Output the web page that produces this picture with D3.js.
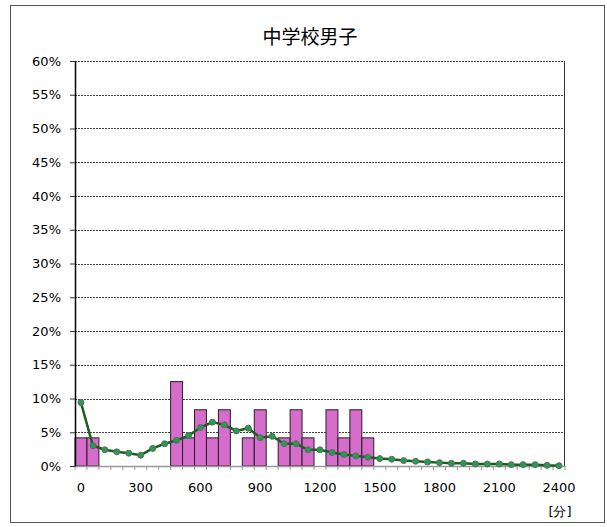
<!DOCTYPE html>
<html>
<head>
    <meta charset="UTF-8">
    <title>中学校男子</title>
    <script src="https://d3js.org/d3.v7.min.js"></script>
    <style>
        body { margin: 0; background: #fff; }
        text { font-family: Verdana, "DejaVu Sans", sans-serif; }
    </style>
</head>
<body>
    <div class="canvas"></div>
    <script>
        // minutes (bin start), bar share and smoothed line share (%)
        const minutes = d3.range(0, 2401, 60);
        const barValues = [4.17, 4.17, 0, 0, 0, 0, 0, 0, 12.5, 4.17, 8.33, 4.17, 8.33, 0, 4.17, 8.33, 0, 4.17, 8.33, 4.17,
            0, 8.33, 4.17, 8.33, 4.17, 0, 0, 0, 0, 0, 0, 0, 0, 0, 0, 0, 0, 0, 0, 0, 0];
        const lineValues = [9.4, 3.0, 2.4, 2.1, 1.9, 1.6, 2.6, 3.3, 3.8, 4.5, 5.7, 6.5, 6.1, 5.2, 5.6, 4.2, 4.4, 3.3, 3.3, 2.4,
            2.4, 2.0, 1.7, 1.5, 1.3, 1.1, 1.0, 0.8, 0.7, 0.6, 0.5, 0.4, 0.4, 0.3, 0.3, 0.3, 0.2, 0.2, 0.2, 0.1, 0.05];
        const yTicks = d3.range(0, 61, 5);
        const xTickLabels = [0, 300, 600, 900, 1200, 1500, 1800, 2100, 2400];

        const width = 607;
        const height = 527;
        const margin = { top: 61, right: 42, bottom: 61, left: 75 };
        const graphWidth = width - margin.left - margin.right;
        const graphHeight = height - margin.top - margin.bottom;

        const svg = d3.select(".canvas")
            .append("svg")
            .attr("width", width)
            .attr("height", height);

        // outer frame
        svg.append("rect")
            .attr("x", 10.5).attr("y", 5.5)
            .attr("width", 594).attr("height", 517)
            .attr("fill", "none")
            .attr("stroke", "#555");

        svg.append("text")
            .attr("x", 310).attr("y", 44)
            .attr("text-anchor", "middle")
            .attr("font-size", 19)
            .attr("fill", "#000")
            .style("font-family", "'Noto Sans CJK JP', sans-serif")
            .text("中学校男子");

        const graph = svg.append("g")
            .attr("transform", `translate(${margin.left}, ${margin.top})`);

        const x = d3.scaleBand()
            .domain(minutes)
            .range([0, graphWidth])
            .padding(0);

        const y = d3.scaleLinear()
            .domain([0, 60])
            .range([graphHeight, 0]);

        // gridlines
        graph.append("g")
            .selectAll("line")
            .data(yTicks.filter(d => d > 0))
            .join("line")
            .attr("x1", 0).attr("x2", graphWidth)
            .attr("y1", d => Math.round(y(d)) + 0.5)
            .attr("y2", d => Math.round(y(d)) + 0.5)
            .attr("stroke", "#444")
            .attr("stroke-dasharray", "2,1");

        // right edge of plot
        graph.append("line")
            .attr("x1", graphWidth - 0.5).attr("x2", graphWidth - 0.5)
            .attr("y1", 0).attr("y2", graphHeight)
            .attr("stroke", "#333");

        // bars
        graph.append("g")
            .selectAll("rect")
            .data(minutes.map((m, i) => ({ m, v: barValues[i] })).filter(d => d.v > 0))
            .join("rect")
            .attr("x", d => x(d.m))
            .attr("y", d => y(d.v))
            .attr("width", x.bandwidth())
            .attr("height", d => graphHeight - y(d.v))
            .attr("fill", "#d66ccb")
            .attr("stroke", "#222")
            .attr("stroke-width", 1);

        // x axis
        const xAxis = d3.axisBottom(x)
            .tickValues([])
            .tickSizeOuter(0);
        const xAxisGroup = graph.append("g")
            .attr("transform", `translate(0, ${graphHeight})`)
            .call(xAxis);
        xAxisGroup.select(".domain").attr("stroke", "#999").attr("stroke-width", 1.5);
        xAxisGroup.selectAll(".bound")
            .data(d3.range(0, minutes.length + 1))
            .join("line")
            .attr("class", "bound")
            .attr("x1", d => d * x.step())
            .attr("x2", d => d * x.step())
            .attr("y1", 0).attr("y2", 4)
            .attr("stroke", "#999");
        xAxisGroup.selectAll(".lbl")
            .data(xTickLabels)
            .join("text")
            .attr("class", "lbl")
            .attr("x", d => x(d) + x.bandwidth() / 2)
            .attr("y", 26)
            .attr("text-anchor", "middle")
            .attr("font-size", 13)
            .attr("fill", "#000")
            .text(d => d);

        svg.append("text")
            .attr("x", 560).attr("y", 516)
            .attr("text-anchor", "middle")
            .attr("font-size", 13)
            .attr("fill", "#000")
            .text("[分]");

        // y axis
        const yAxis = d3.axisLeft(y)
            .tickValues(yTicks)
            .tickSize(5)
            .tickSizeOuter(0)
            .tickFormat(d => d + "%");
        const yAxisGroup = graph.append("g").call(yAxis);
        yAxisGroup.select(".domain").attr("stroke", "#000").attr("stroke-width", 1.5);
        yAxisGroup.selectAll(".tick line").attr("stroke", "#333");
        yAxisGroup.selectAll(".tick text")
            .attr("x", -14)
            .attr("font-size", 13)
            .attr("fill", "#000")
            .style("font-family", "Verdana, 'DejaVu Sans', sans-serif");

        // smoothed line
        const line = d3.line()
            .x((d, i) => x(minutes[i]) + x.bandwidth() / 2)
            .y(d => y(d));

        graph.append("path")
            .datum(lineValues)
            .attr("d", line)
            .attr("fill", "none")
            .attr("stroke", "#1b5e20")
            .attr("stroke-width", 2.5);

        graph.append("g")
            .selectAll("circle")
            .data(lineValues)
            .join("circle")
            .attr("cx", (d, i) => x(minutes[i]) + x.bandwidth() / 2)
            .attr("cy", d => y(d))
            .attr("r", 3)
            .attr("fill", "#1ea04f")
            .attr("stroke", "#666")
            .attr("stroke-width", 1);
    </script>
</body>
</html>
